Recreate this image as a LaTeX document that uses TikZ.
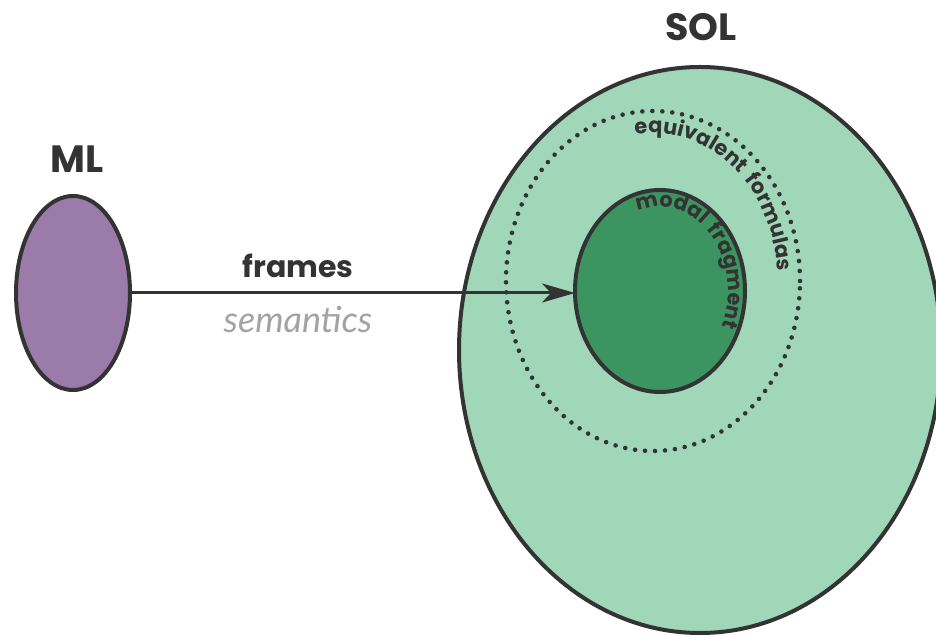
\documentclass[tikz,border=0pt]{standalone}
\usepackage{fontspec}
\setmainfont{Lato}
\newfontfamily\curvefont{Poppins}
\newfontfamily\titlefont{Poppins}
\usetikzlibrary{decorations.text,arrows.meta,shapes.geometric}
\definecolor{dk}{HTML}{333333}
\definecolor{purp}{HTML}{9B7BA9}
\definecolor{lgreen}{HTML}{A0D7B8}
\definecolor{dgreen}{HTML}{3C9560}
\definecolor{semgray}{HTML}{A3A3A3}
\tikzset{
  blob/.style={ellipse, draw=dk, line width=4pt, inner sep=0pt, outer sep=0pt},
  title/.style={anchor=base, font=\titlefont\bfseries\fontsize{38}{38}\selectfont, text=dk},
  conn/.style={draw=dk, line width=3pt, -{Stealth[length=33pt, width=19pt, inset=9pt]}},
  dots/.style={draw=dk, line width=4.6pt, line cap=round, dash pattern=on 0pt off 10pt},
}
\begin{document}
\begin{tikzpicture}[x=1pt,y=1pt]
\useasboundingbox (0,0) rectangle (936,637);
\clip (0,0) rectangle (936,637);
% big SOL ellipse
\node[blob, fill=lgreen, minimum width=482, minimum height=566] (sol) at (700,287) {};
% dotted ellipse of equivalent formulas
\coordinate (eqc) at (653,356);
\draw[dots] (eqc) ellipse[x radius=147, y radius=170];
% modal fragment
\node[blob, fill=dgreen, minimum width=170, minimum height=202] (frag) at (660,346) {};
% ML
\node[blob, fill=purp, minimum width=114, minimum height=194] (ml) at (73,344) {};
% titles
\node[title] (mllabel) at (77.5,464) {ML};
\node[title] (sollabel) at (701,596) {SOL};
% connector
\draw[conn] (ml.east) -- (ml.east -| frag.west);
\node[anchor=base, text=dk, font=\titlefont\bfseries\fontsize{30}{30}\selectfont] (frames) at (298,359) {frames};
\node[anchor=base, text=semgray, font=\itshape\fontsize{36}{36}\selectfont] (sem) at (298,304) {semantics};
% curved labels
\path[decorate, decoration={text along path, text align=center,
   text={|\curvefont\bfseries\fontsize{21}{21}\selectfont\color{dk}|equivalent {\kern3pt}formulas}}]
   (eqc) ++(112:125 and 148) arc[start angle=112, end angle=-8, x radius=125, y radius=148];
\path[decorate, decoration={text along path, text align=center,
   text={|\curvefont\bfseries\fontsize{21}{21}\selectfont\color{dk}|modal {\kern2pt}fragment}}]
   (frag.center) ++(133:68 and 84) arc[start angle=133, end angle=-47, x radius=68, y radius=84];
\end{tikzpicture}
\end{document}
